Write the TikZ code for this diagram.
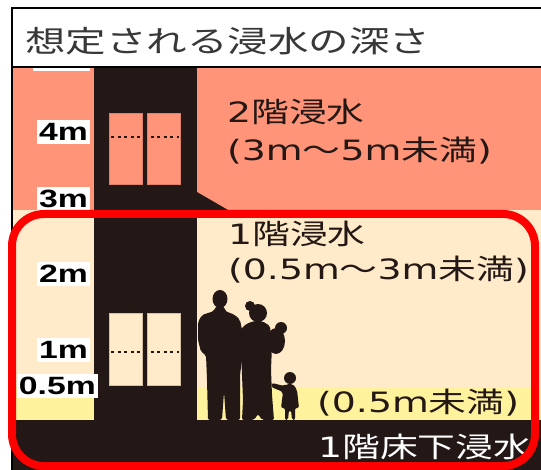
\documentclass[tikz,border=0pt]{standalone}
\usepackage{fontspec}
\usepackage{graphicx}
\usepackage{tikz}
\setmainfont{Liberation Sans}
\newfontfamily\jpfont{Noto Sans CJK JP}
\newfontfamily\latfont{DejaVu Sans}
\definecolor{floodTwo}{RGB}{255,148,120}
\definecolor{floodOne}{RGB}{255,235,201}
\definecolor{floodLow}{RGB}{255,242,157}
\definecolor{houseDark}{RGB}{35,24,21}
\colorlet{titleGray}{black!78}
\newcommand{\widetext}[1]{\scalebox{1.35}[1]{#1}}
\newcommand{\lat}[1]{{\latfont #1}}

\begin{document}
\begin{tikzpicture}[x=1pt, y=-1pt,
    depth/.style={font=\bfseries\fontsize{25}{25}\selectfont, fill=white,
      inner xsep=2pt, inner ysep=3pt, anchor=east},
    zone/.style={font=\jpfont\fontsize{28}{28}\selectfont, text=houseDark,
      inner sep=0pt, anchor=west},
    pane/.style={line width=0.8pt}]
  \useasboundingbox (0,0) rectangle (541,470);
  % water levels
  \fill[white] (0,0) rectangle (541,470);
  \fill[floodTwo] (12,67) rectangle (541,210);
  \fill[floodOne] (12,210) rectangle (541,387);
  \fill[floodLow] (12,387) rectangle (541,420);
  \fill[houseDark] (12,420) rectangle (541,470);
  \fill[white] (33,67) rectangle (90,71);
  % house
  \fill[houseDark] (94,67) rectangle (197,420);
  \fill[houseDark] (197,192) -- (228,210) -- (197,210) -- cycle;
  \draw[pane, fill=floodTwo, draw=floodTwo!85!houseDark] (109,113) rectangle (142,184);
  \draw[pane, fill=floodTwo, draw=floodTwo!85!houseDark] (147,113) rectangle (180,184);
  \draw[pane, fill=floodOne, draw=floodOne!80!houseDark] (109,313) rectangle (142,385);
  \draw[pane, fill=floodOne, draw=floodOne!80!houseDark] (147,313) rectangle (180,385);
  \draw[houseDark, line width=2.8pt, dash pattern=on 3pt off 3.6pt] (111,137) -- (179,137);
  \draw[houseDark, line width=2.8pt, dash pattern=on 3pt off 3.6pt] (111,352) -- (179,352);
  % family
  \begin{scope}[fill=houseDark, rounded corners=2pt]
    \fill (220,299) ellipse (7.5 and 9);
    \fill (216,306) -- (224,306) -- (225,311) -- (235,315) -- (240,320) -- (243,335)
      -- (242,360) -- (240,375) -- (240,420) -- (226,420) -- (224,392) -- (222,420)
      -- (208,420) -- (207,380) -- (206,355) -- (201,352) -- (198,340) -- (198,322)
      -- (202,315) -- (214,311) -- cycle;
    \fill (258,313) circle (9);
    \fill (250,306) circle (5);
    \fill (254,321) -- (262,321) -- (270,326) -- (272,345) -- (271,370) -- (272,395)
      -- (274,420) -- (262,420) -- (258,414) -- (254,420) -- (242,420) -- (243,400)
      -- (242,375) -- (241,350) -- (240,330) -- (246,324) -- cycle;
    \fill (276,341) ellipse (9 and 13);
    \fill (281,328) circle (6);
    \fill (290,378) circle (6);
    \fill (287,384) -- (293,384) -- (297,390) -- (299,408) -- (295,408) -- (295,420)
      -- (292,420) -- (291,410) -- (289,410) -- (288,420) -- (285,420) -- (285,408)
      -- (281,408) -- (283,392) -- (276,389) -- (271,387) -- (272,383) -- (284,386) -- cycle;
  \end{scope}
  % heading
  \fill[white] (12,8) rectangle (541,67);
  \draw[line width=2pt] (541,8) -- (12,8) -- (12,470);
  \draw[line width=2pt] (12,67) -- (541,67);
  \node[font=\jpfont\fontsize{30}{30}\selectfont, text=titleGray, inner sep=0pt, anchor=west]
    (title) at (25,41) {\widetext{想定される浸水の深さ}};
  % depth marks
  \node[depth] (d4) at (90,132) {\widetext{4m}};
  \node[depth] (d3) at (90,199) {\widetext{3m}};
  \node[depth] (d2) at (90,274) {\widetext{2m}};
  \node[depth] (d1) at (90,350) {\widetext{1m}};
  \node[depth] (dhalf) at (98,386) {\widetext{0.5m}};
  % zone labels
  \node[zone] (upper) at (227,112) {\widetext{\lat{2}階浸水}};
  \node[zone] (upperRange) at (227,151) {\widetext{\lat{(3m}～\lat{5m}未満\lat{)}}};
  \node[zone] (lower) at (228,234) {\widetext{\lat{1}階浸水}};
  \node[zone] (lowerRange) at (228,270) {\widetext{\lat{(0.5m}～\lat{3m}未満\lat{)}}};
  \node[zone] (low) at (317,403) {\widetext{\lat{(0.5m}未満\lat{)}}};
  \node[zone, text=white] (under) at (318,447) {\widetext{\lat{1}階床下浸水}};
  % highlight
  \draw[red, line width=8pt, rounded corners=32pt] (12,214) rectangle (535,466);
\end{tikzpicture}
\end{document}
